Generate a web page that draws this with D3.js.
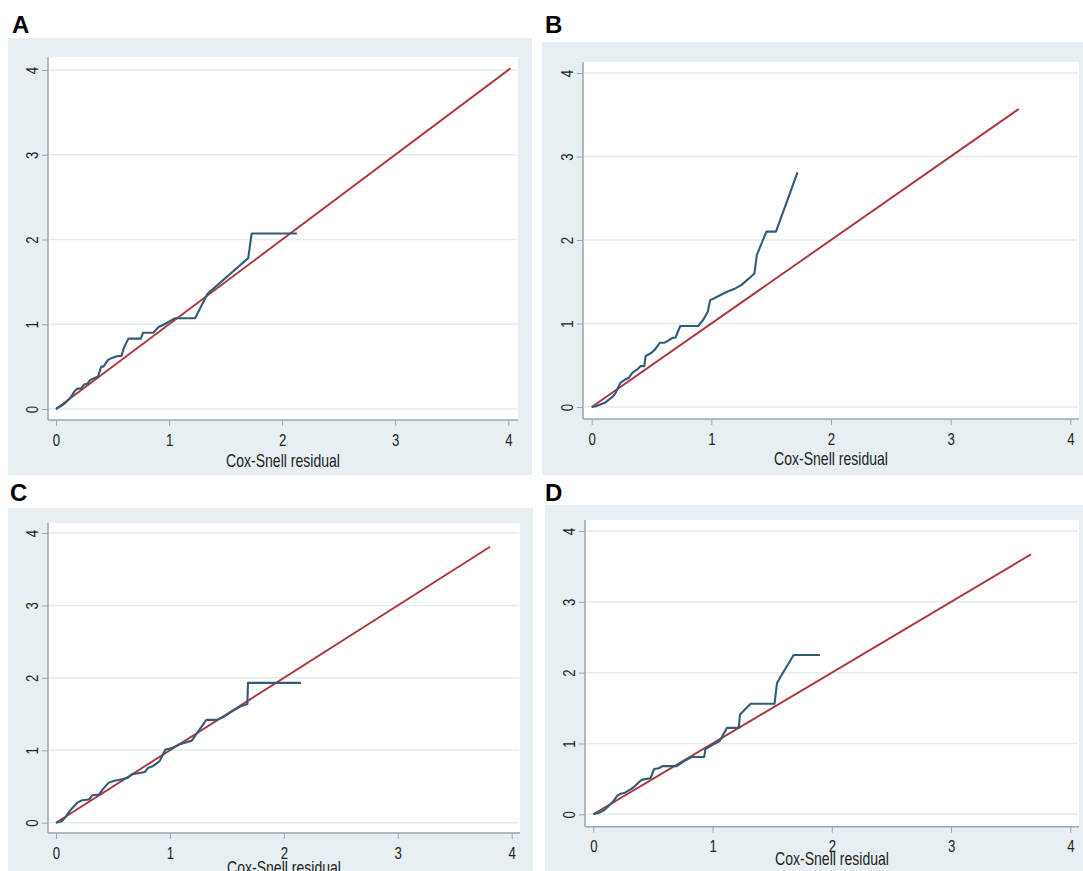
<!DOCTYPE html>
<html>
<head>
<meta charset="utf-8">
<script src="https://cdn.jsdelivr.net/npm/d3@7"></script>
<style>
  html, body { margin: 0; padding: 0; background: #ffffff; }
  svg { display: block; }
</style>
</head>
<body>
<svg id="chart" width="1083" height="871"></svg>
<script>
// ---------------- DATA ----------------
const tickValues = [0, 1, 2, 3, 4];
const panelLabels = ["A", "B", "C", "D"];
const xAxisTitle = "Cox-Snell residual";

// Panel A: Nelson-Aalen cumulative hazard vs Cox-Snell residual
const residA  = [0, 0.04, 0.08, 0.12, 0.17, 0.19, 0.22, 0.25, 0.28, 0.30, 0.33, 0.37, 0.40, 0.42, 0.46, 0.49, 0.53, 0.58, 0.60, 0.64, 0.75, 0.77, 0.86, 0.91, 0.96, 1.05, 1.23, 1.34, 1.46, 1.58, 1.70, 1.73, 2.13];
const hazardA = [0, 0.03, 0.07, 0.12, 0.22, 0.24, 0.24, 0.29, 0.30, 0.34, 0.36, 0.38, 0.50, 0.50, 0.58, 0.60, 0.62, 0.63, 0.72, 0.83, 0.83, 0.90, 0.90, 0.97, 1.00, 1.07, 1.07, 1.36, 1.50, 1.64, 1.78, 2.07, 2.07];

// Panel B
const residB  = [0, 0.035, 0.11, 0.18, 0.20, 0.24, 0.28, 0.31, 0.34, 0.38, 0.41, 0.44, 0.45, 0.50, 0.53, 0.57, 0.61, 0.68, 0.70, 0.74, 0.89, 0.93, 0.97, 0.99, 1.02, 1.13, 1.20, 1.25, 1.33, 1.36, 1.38, 1.42, 1.46, 1.54, 1.565, 1.72];
const hazardB = [0, 0.01, 0.05, 0.13, 0.17, 0.29, 0.33, 0.35, 0.41, 0.45, 0.49, 0.49, 0.61, 0.65, 0.69, 0.77, 0.77, 0.83, 0.83, 0.97, 0.97, 1.04, 1.14, 1.28, 1.30, 1.38, 1.42, 1.46, 1.56, 1.60, 1.82, 1.96, 2.10, 2.10, 2.20, 2.81];

// Panel C
const residC  = [0, 0.05, 0.08, 0.11, 0.13, 0.16, 0.19, 0.23, 0.29, 0.32, 0.38, 0.41, 0.46, 0.505, 0.58, 0.63, 0.67, 0.78, 0.81, 0.85, 0.91, 0.96, 1.02, 1.08, 1.19, 1.23, 1.32, 1.41, 1.47, 1.56, 1.625, 1.68, 1.685, 2.15];
const hazardC = [0, 0.02, 0.07, 0.14, 0.18, 0.23, 0.28, 0.31, 0.32, 0.38, 0.39, 0.46, 0.55, 0.575, 0.60, 0.62, 0.67, 0.70, 0.76, 0.78, 0.85, 1.01, 1.03, 1.08, 1.13, 1.22, 1.42, 1.42, 1.46, 1.55, 1.61, 1.64, 1.93, 1.93];

// Panel D
const residD  = [0, 0.06, 0.10, 0.145, 0.17, 0.20, 0.23, 0.26, 0.29, 0.32, 0.35, 0.38, 0.41, 0.48, 0.51, 0.55, 0.58, 0.70, 0.77, 0.83, 0.93, 0.94, 1.00, 1.06, 1.12, 1.22, 1.23, 1.32, 1.52, 1.54, 1.58, 1.68, 1.90];
const hazardD = [0, 0.03, 0.07, 0.145, 0.19, 0.26, 0.29, 0.30, 0.33, 0.36, 0.40, 0.45, 0.49, 0.51, 0.64, 0.65, 0.68, 0.68, 0.76, 0.81, 0.81, 0.92, 0.98, 1.035, 1.22, 1.22, 1.41, 1.56, 1.56, 1.85, 1.97, 2.25, 2.25];

// 45-degree reference line end points (y = x)
const refEnd = [4.02, 3.57, 3.81, 3.67];

// ---------------- LAYOUT ----------------
const layout = [
  { bg: [8, 38, 532, 475],  frame: [48, 57, 518, 420],  xr: [56, 508.3],   yr: [409, 70],   titleY: 466.5, lab: [12, 33] },
  { bg: [542, 42, 1083, 475], frame: [583, 62, 1079, 419], xr: [591.7, 1070.3], yr: [407, 73], titleY: 465, lab: [545, 33] },
  { bg: [8, 508, 533, 871], frame: [48, 523, 520, 833], xr: [56, 511.7],   yr: [822.7, 533], titleY: 874, lab: [10, 501] },
  { bg: [545, 505, 1083, 871], frame: [585, 520, 1079, 826.7], xr: [593.3, 1070.3], yr: [814.3, 531], titleY: 864.5, lab: [545, 501] }
];

const series = [
  [residA, hazardA],
  [residB, hazardB],
  [residC, hazardC],
  [residD, hazardD]
];

const COL_BG = "#e8eff2";
const COL_GRID = "#e4ecef";
const COL_AXIS = "#98a6ae";
const COL_BLUE = "#315b76";
const COL_RED = "#a9363d";
const FONT = "'Liberation Sans', Arial, sans-serif";
const NARROW = 0.8;

const svg = d3.select("#chart");

layout.forEach((L, i) => {
  const g = svg.append("g");
  // outer graph region
  g.append("rect")
    .attr("x", L.bg[0]).attr("y", L.bg[1])
    .attr("width", L.bg[2] - L.bg[0]).attr("height", L.bg[3] - L.bg[1])
    .attr("fill", COL_BG);
  // plot region
  g.append("rect")
    .attr("x", L.frame[0]).attr("y", L.frame[1])
    .attr("width", L.frame[2] - L.frame[0]).attr("height", L.frame[3] - L.frame[1])
    .attr("fill", "#ffffff");

  const x = d3.scaleLinear().domain([0, 4]).range(L.xr);
  const y = d3.scaleLinear().domain([0, 4]).range(L.yr);

  // gridlines
  g.append("g").selectAll("line").data(tickValues).join("line")
    .attr("x1", L.frame[0] + 1).attr("x2", L.frame[2] - 1)
    .attr("y1", d => y(d)).attr("y2", d => y(d))
    .attr("stroke", COL_GRID).attr("stroke-width", 1.5);

  // x axis
  const xAxis = d3.axisBottom(x).tickValues(tickValues).tickSize(6).tickSizeOuter(0).tickPadding(8).tickFormat(d3.format("d"));
  const gx = g.append("g").attr("transform", `translate(0,${L.frame[3]})`).call(xAxis);
  gx.select(".domain").remove();
  gx.selectAll(".tick line").attr("stroke", COL_AXIS).attr("stroke-width", 1);
  gx.selectAll(".tick text").attr("font-family", FONT).attr("font-size", 16.5).attr("fill", "#222")
    .attr("transform", `scale(${NARROW},1)`);

  // y axis
  const yAxis = d3.axisLeft(y).tickValues(tickValues).tickSize(6).tickSizeOuter(0).tickPadding(4).tickFormat(d3.format("d"));
  const gy = g.append("g").attr("transform", `translate(${L.frame[0]},0)`).call(yAxis);
  gy.select(".domain").remove();
  gy.selectAll(".tick line").attr("stroke", COL_AXIS).attr("stroke-width", 1);
  gy.selectAll(".tick text")
    .attr("font-family", FONT).attr("font-size", 16.5).attr("fill", "#222")
    .attr("text-anchor", "middle").attr("dy", null).attr("x", null)
    .attr("transform", `translate(-16,0) rotate(-90) scale(${NARROW},1)`)
    .attr("dominant-baseline", "central");

  // axis lines
  g.append("line").attr("x1", L.frame[0]).attr("x2", L.frame[2])
    .attr("y1", L.frame[3]).attr("y2", L.frame[3])
    .attr("stroke", COL_AXIS).attr("stroke-width", 1.5);
  g.append("line").attr("x1", L.frame[0]).attr("x2", L.frame[0])
    .attr("y1", L.frame[1]).attr("y2", L.frame[3])
    .attr("stroke", COL_AXIS).attr("stroke-width", 1.5);

  // reference line y = x
  const line = d3.line().x(d => x(d[0])).y(d => y(d[1]));
  g.append("path")
    .datum([[0, 0], [refEnd[i], refEnd[i]]])
    .attr("d", line).attr("fill", "none")
    .attr("stroke", COL_RED).attr("stroke-width", 1.9);

  // cumulative hazard curve
  const [rx, hz] = series[i];
  const pts = rx.map((v, k) => [v, hz[k]]);
  g.append("path")
    .datum(pts)
    .attr("d", line).attr("fill", "none")
    .attr("stroke", COL_BLUE).attr("stroke-width", 2.1)
    .attr("stroke-linejoin", "round");

  // x-axis title
  g.append("g")
    .attr("transform", `translate(${(L.frame[0] + L.frame[2]) / 2},${L.titleY})`)
    .append("text")
    .attr("text-anchor", "middle")
    .attr("transform", "scale(0.78,1)")
    .attr("font-family", FONT).attr("font-size", 18).attr("fill", "#222")
    .text(xAxisTitle);

  // panel letter
  svg.append("text")
    .attr("x", L.lab[0]).attr("y", L.lab[1])
    .attr("font-family", "'Liberation Sans', Arial, sans-serif")
    .attr("font-weight", "bold").attr("font-size", 24).attr("fill", "#000")
    .text(panelLabels[i]);
});
</script>
</body>
</html>
